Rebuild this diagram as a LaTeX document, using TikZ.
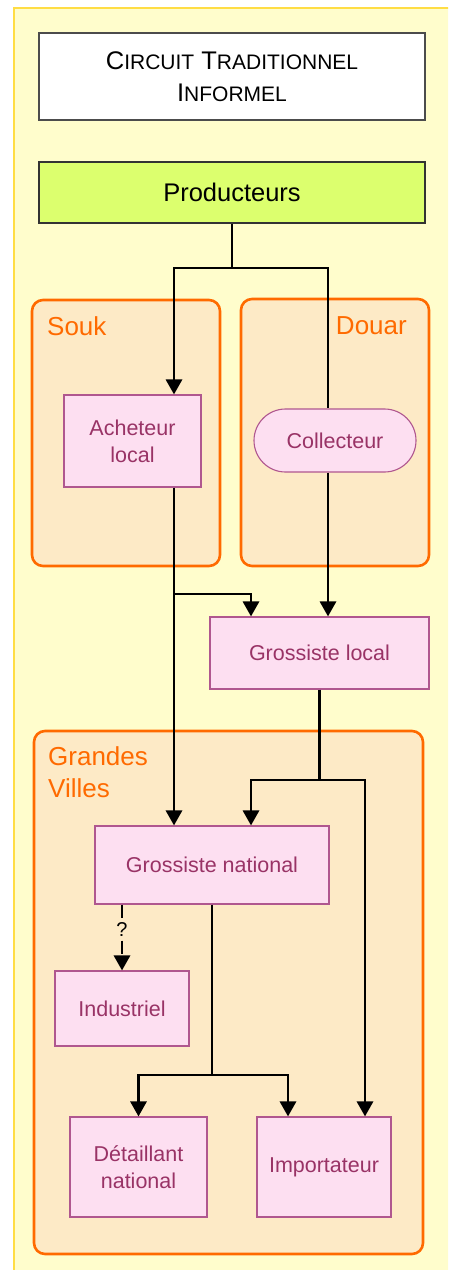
\documentclass[tikz,border=0pt]{standalone}
\usepackage{fontspec}
\setmainfont{Liberation Sans}
\usetikzlibrary{arrows.meta,shapes.misc}

\definecolor{pagebg}{HTML}{FFFDCC}
\definecolor{pageedge}{HTML}{FFDD44}
\definecolor{zonefill}{HTML}{FDEAC6}
\definecolor{zoneedge}{HTML}{FF6A00}
\definecolor{actorfill}{HTML}{FDDFF1}
\definecolor{actoredge}{HTML}{B0578F}
\definecolor{actortext}{HTML}{993366}
\definecolor{prodfill}{HTML}{DCFF6E}

% small capitals built from two sizes of the sans face
\newcommand\capword[2]{{\fontsize{25.5}{32}\selectfont #1}{\fontsize{21}{32}\selectfont #2}}

\tikzset{
  zone/.style={draw=zoneedge, line width=2.6pt, fill=zonefill, rounded corners=11pt},
  zonelabel/.style={text=zoneedge, font=\fontsize{26}{32}\selectfont, inner sep=0pt},
  actor/.style={draw=actoredge, line width=1.1pt, fill=actorfill, text=actortext,
    font=\fontsize{21.5}{27}\selectfont, align=center, inner sep=0pt},
  flow/.style={line width=2.9pt, draw=black},
  tip/.style={-{Triangle[width=16pt,length=15pt]}},
}

\begin{document}
\begin{tikzpicture}[x=1pt,y=-1pt]
  \useasboundingbox (0,0) rectangle (448,1270);
  \clip (0,0) rectangle (448,1270);

  % page background
  \draw[fill=pagebg, draw=pageedge, line width=1.6pt] (14,8) rectangle (470,1290);

  % title and source
  \node[draw=black!70, line width=1.1pt, fill=white, minimum width=386pt, minimum height=87pt,
        align=center, inner sep=0pt, font=\fontsize{25.5}{32}\selectfont]
    (title) at (232,76.5) {\capword{C}{IRCUIT} \capword{T}{RADITIONNEL}\\\capword{I}{NFORMEL}};
  \node[draw=black!80, line width=1.1pt, fill=prodfill, minimum width=386pt, minimum height=61pt,
        inner sep=0pt, font=\fontsize{25.5}{30}\selectfont]
    (prod) at (232,192.5) {Producteurs};

  % zones
  \node[zone, minimum width=188pt, minimum height=266pt, inner sep=0pt] (souk) at (126,433) {};
  \node[zone, minimum width=188pt, minimum height=267pt, inner sep=0pt] (douar) at (335,432.5) {};
  \node[zone, minimum width=389pt, minimum height=523pt, inner sep=0pt] (villes) at (228.5,992.5) {};
  \node[zonelabel, anchor=base west] (soukl) at (47,335) {Souk};
  \node[zonelabel, anchor=base east] (douarl) at (407,334) {Douar};
  \node[zonelabel, anchor=base west, align=left] (villesl) at (48,797) {Grandes\\Villes};

  % actors
  \node[actor, minimum width=137pt, minimum height=92pt] (ach) at (132.5,441) {Acheteur\\local};
  \node[actor, rounded rectangle, minimum width=162pt, minimum height=63pt] (coll) at (335,440.5) {Collecteur};
  \node[actor, minimum width=219pt, minimum height=72pt] (gl) at (319.5,653) {Grossiste local};
  \node[actor, minimum width=234pt, minimum height=78pt] (gn) at (212,865) {Grossiste national};
  \node[actor, minimum width=134pt, minimum height=75pt] (ind) at (122,1008.5) {Industriel};
  \node[actor, minimum width=137pt, minimum height=100pt] (det) at (138.5,1167) {Détaillant\\national};
  \node[actor, minimum width=134pt, minimum height=100pt] (imp) at (324,1167) {Importateur};

  % columns and junctions of the flows
  \coordinate (xa) at (174,0);
  \coordinate (xb) at (251,0);
  \coordinate (xc) at (328,0);
  \coordinate (xd) at (365,0);
  \coordinate (xe) at (288,0);
  \coordinate (j1) at (232,268);
  \coordinate (j2) at (174,594);
  \coordinate (j3) at (319.5,780);
  \coordinate (j4) at (212,1075);

  % flows
  \draw[flow] (prod.south) -- (j1);
  \draw[flow, tip] (j1) -| (xa |- ach.north);
  \draw[flow] (j1) -| (xc |- coll.north);
  \draw[flow, tip] (xc |- coll.south) -- (xc |- gl.north);
  \draw[flow, tip] (xa |- ach.south) -- (xa |- gn.north);
  \draw[flow, tip] (j2) -| (xb |- gl.north);
  \draw[flow] (gl.south) -- (j3);
  \draw[flow, tip] (j3) -| (xb |- gn.north);
  \draw[flow, tip] (j3) -| (xd |- imp.north);
  \draw[flow, tip, dash pattern=on 13pt off 5pt] (ind.north |- gn.south) -- (ind.north)
    node[pos=0.38, fill=zonefill, inner sep=1.5pt, font=\fontsize{20}{22}\selectfont] (q) {?};
  \draw[flow] (gn.south) -- (j4);
  \draw[flow, tip] (j4) -| (det.north);
  \draw[flow, tip] (j4) -| (xe |- imp.north);
\end{tikzpicture}
\end{document}
